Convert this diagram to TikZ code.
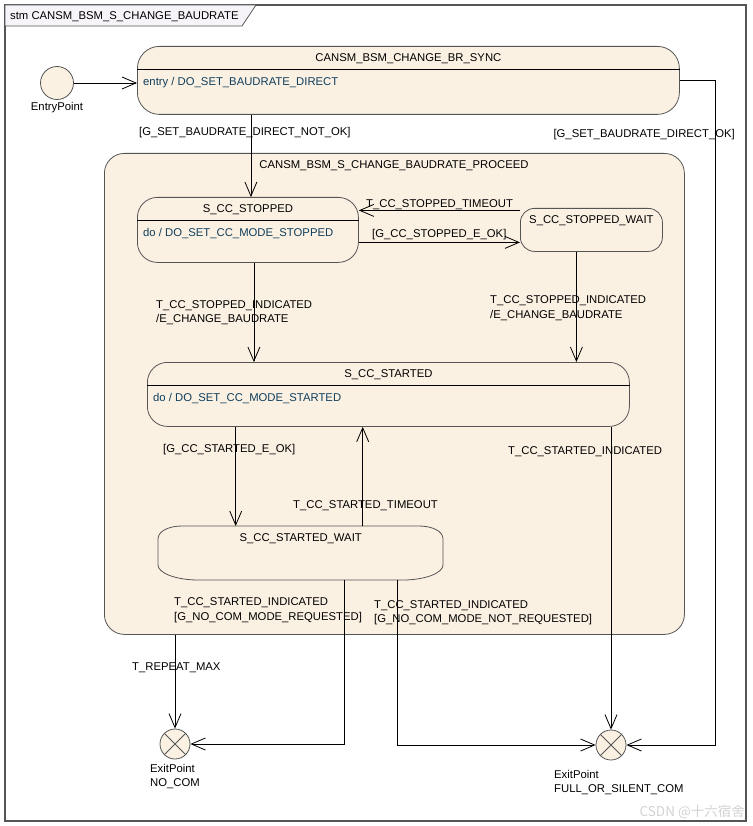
\documentclass[tikz,border=0pt]{standalone}
\usepackage{fontspec}
\setmainfont{Liberation Sans}
\newfontfamily\cjkfont{Noto Sans CJK SC}
\usepackage{tikz}
\usetikzlibrary{arrows.meta}
\usetikzlibrary{calc}

\definecolor{stfill}{RGB}{251,241,227}
\definecolor{stline}{RGB}{85,85,85}
\definecolor{dotext}{RGB}{14,62,92}
\definecolor{tabfill}{RGB}{246,244,248}

\begin{document}
\begin{tikzpicture}[x=1pt, y=-1pt,
  every node/.style={font=\fontsize{11.3}{14.5}\selectfont, inner sep=0pt},
  state/.style={draw=stline, fill=stfill, line width=0.8pt, rounded corners=20pt, anchor=north west},
  sep/.style={line width=0.8pt},
  tr/.style={line width=0.8pt, -{Straight Barb[length=14pt, width=12pt]}},
  lbl/.style={anchor=west, align=left},
  exitpt/.style={circle, draw=stline, fill=stfill, line width=0.8pt, minimum size=30pt}]

\useasboundingbox (0,0) rectangle (752,826);

% frame
\draw[stline, line width=1.2pt] (5,5) rectangle (746,821);
\filldraw[fill=tabfill, draw=stline, line width=0.8pt] (5,5) -- (256,5) -- (242,26) -- (5,26) -- cycle;
\node[anchor=west] (tabT) at (10,17) {stm CANSM\_BSM\_S\_CHANGE\_BAUDRATE};

% entry point
\node[circle, draw=stline, fill=stfill, line width=0.8pt, minimum size=33pt] (entry) at (57,83) {};
\node (entryL) at (57,108) {EntryPoint};

% sync state
\node[state, rounded corners=22pt, minimum width=542pt, minimum height=68pt] (sync) at (137,46) {};
\node (syncT) at ([yshift=-13pt]sync.north) {CANSM\_BSM\_CHANGE\_BR\_SYNC};
\draw[sep] ([yshift=-23pt]sync.north west) -- ([yshift=-23pt]sync.north east);
\node[anchor=west, text=dotext] (syncE) at (143,83) {entry / DO\_SET\_BAUDRATE\_DIRECT};

% composite state
\node[state, minimum width=580pt, minimum height=481pt] (proceed) at (104,153) {};
\node (proceedT) at (394,166) {CANSM\_BSM\_S\_CHANGE\_BAUDRATE\_PROCEED};

\node[state, minimum width=221pt, minimum height=65pt] (stopped) at (137,197) {};
\node (stoppedT) at ([yshift=-13pt]stopped.north) {S\_CC\_STOPPED};
\draw[sep] ([yshift=-23pt]stopped.north west) -- ([yshift=-23pt]stopped.north east);
\node[anchor=west, text=dotext] (stoppedD) at (143,234) {do / DO\_SET\_CC\_MODE\_STOPPED};

\node[state, rounded corners=14pt, minimum width=142pt, minimum height=43pt] (stWait) at (520,208) {};
\node (stWaitT) at ([yshift=-13pt]stWait.north) {S\_CC\_STOPPED\_WAIT};

\node[state, minimum width=482pt, minimum height=64pt] (started) at (147,362) {};
\node (startedT) at ([yshift=-13pt]started.north) {S\_CC\_STARTED};
\draw[sep] ([yshift=-23pt]started.north west) -- ([yshift=-23pt]started.north east);
\node[anchor=west, text=dotext] (startedD) at (153,399) {do / DO\_SET\_CC\_MODE\_STARTED};

\node[minimum width=285pt, minimum height=54pt, anchor=north west] (saWait) at (158,526) {};
\filldraw[fill=stfill, draw=stline, line width=0.8pt] (158,539) .. controls (158,531) and (169,526) .. (182,526)
  -- (419,526) .. controls (432,526) and (443,531) .. (443,539) -- (443,565)
  .. controls (443,573) and (425,580) .. (403,580) -- (198,580)
  .. controls (176,580) and (158,573) .. (158,565) -- cycle;
\node (saWaitT) at ([yshift=-13pt]saWait.north) {S\_CC\_STARTED\_WAIT};

% exit points
\node[exitpt] (exNoCom) at (175,744) {};
\draw[stline, line width=0.8pt] (exNoCom.north west) -- (exNoCom.south east) (exNoCom.north east) -- (exNoCom.south west);
\node[lbl, anchor=north west] (exNoComL) at (150,764) {ExitPoint\\NO\_COM};

\node[exitpt] (exFull) at (611,745) {};
\draw[stline, line width=0.8pt] (exFull.north west) -- (exFull.south east) (exFull.north east) -- (exFull.south west);
\node[lbl, anchor=north west] (exFullL) at (554,770) {ExitPoint\\FULL\_OR\_SILENT\_COM};

% transitions
\draw[tr] (entry) -- (entry -| sync.west);

\draw[tr] ([xshift=3pt]stopped.north |- sync.south) -- ([xshift=3pt]stopped.north);
\node[lbl] (tNotOk) at (139,133) {[G\_SET\_BAUDRATE\_DIRECT\_NOT\_OK]};

\draw[tr] (sync.east) -- ++(36,0) |- (exFull.east);
\node[lbl, anchor=east] (tOk) at (735,135) {[G\_SET\_BAUDRATE\_DIRECT\_OK]};

\draw[tr] ([yshift=19.5pt]stWait.west) -- ([yshift=19.5pt]stWait.west -| stopped.east);
\node[lbl] (tStTo) at (366,205) {T\_CC\_STOPPED\_TIMEOUT};
\draw[tr] ([yshift=-12.5pt]stopped.east) -- ([yshift=-12.5pt]stopped.east -| stWait.west);
\node[lbl] (tStOk) at (372,235) {[G\_CC\_STOPPED\_E\_OK]};

\draw[tr] ([xshift=6pt]stopped.south) -- ([xshift=6pt]stopped.south |- started.north);
\node[lbl] (tStInd) at (156,312.5) {T\_CC\_STOPPED\_INDICATED\\/E\_CHANGE\_BAUDRATE};

\draw[tr] ([xshift=-15pt]stWait.south) -- ([xshift=-15pt]stWait.south |- started.north);
\node[lbl] (tStIndW) at (490,308) {T\_CC\_STOPPED\_INDICATED\\/E\_CHANGE\_BAUDRATE};

\draw[tr] ([xshift=-65pt]saWait.north |- started.south) -- ([xshift=-65pt]saWait.north);
\node[lbl] (tSaOk) at (163,450) {[G\_CC\_STARTED\_E\_OK]};

\draw[tr] ([xshift=62pt]saWait.north) -- ([xshift=62pt]saWait.north |- started.south);
\node[lbl] (tSaTo) at (293,506) {T\_CC\_STARTED\_TIMEOUT};

\draw[tr] (exFull.north |- started.south) -- (exFull.north);
\node[lbl] (tSaInd) at (508,452) {T\_CC\_STARTED\_INDICATED};

\draw[tr] ([xshift=44pt]saWait.south) |- (exNoCom.east);
\node[lbl] (tNoReq) at (174,610) {T\_CC\_STARTED\_INDICATED\\{[}G\_NO\_COM\_MODE\_REQUESTED{]}};

\draw[tr] ([xshift=97pt]saWait.south) |- (exFull.west);
\node[lbl] (tNotReq) at (374,612.5) {T\_CC\_STARTED\_INDICATED\\{[}G\_NO\_COM\_MODE\_NOT\_REQUESTED{]}};

\draw[tr] (exNoCom.north |- proceed.south) -- (exNoCom.north);
\node[lbl] (tRep) at (132,668) {T\_REPEAT\_MAX};

\node[anchor=east, text=gray!35, font=\cjkfont\fontsize{13.5}{16}\selectfont] (wm) at (745,812) {CSDN @十六宿舍};

\end{tikzpicture}
\end{document}
